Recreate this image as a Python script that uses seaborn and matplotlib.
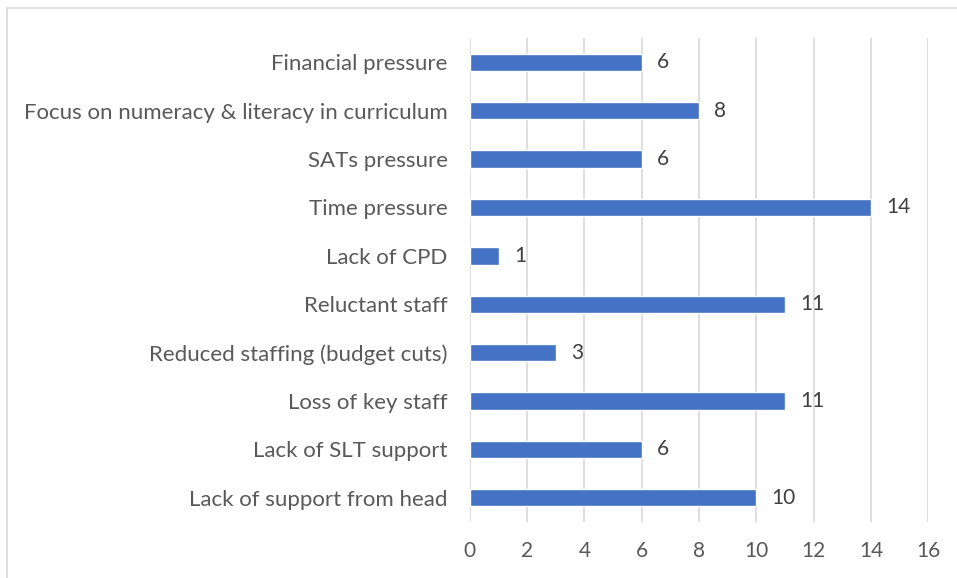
import pandas as pd
import numpy as np
import matplotlib.pyplot as plt
import seaborn as sns
from matplotlib.patches import Rectangle

# dados do gráfico (de cima para baixo)
categorias = [
    "Financial pressure",
    "Focus on numeracy & literacy in curriculum",
    "SATs pressure",
    "Time pressure",
    "Lack of CPD",
    "Reluctant staff",
    "Reduced staffing (budget cuts)",
    "Loss of key staff",
    "Lack of SLT support",
    "Lack of support from head",
]
valores = [6, 8, 6, 14, 1, 11, 3, 11, 6, 10]
ticks_x = [0, 2, 4, 6, 8, 10, 12, 14, 16]

df = pd.DataFrame({"categoria": categorias, "valor": valores})

sns.set_theme(style="white")
plt.rcParams["font.family"] = ["Lato", "DejaVu Sans"]

fig = plt.figure(figsize=(9.57, 5.78), dpi=100)
ax = fig.add_axes([0.491, 0.097, 0.479, 0.837])

# borda do gráfico
fig.patches.append(Rectangle((7 / 957, -0.01), 1.02, 1 - 8 / 578 + 0.01,
                             transform=fig.transFigure, fill=False,
                             edgecolor="#d9d9d9", linewidth=1.2))

sns.barplot(data=df, y="categoria", x="valor", color="#4472C4",
            width=0.36, saturation=1, ax=ax, zorder=3)

for cont in ax.containers:
    ax.bar_label(cont, padding=11, fontsize=15, color="#404040")

ax.set_xlim(0, 16)
ax.set_xticks(ticks_x)
ax.grid(axis="x", color="#d9d9d9", linewidth=1.2, zorder=0)
ax.set_axisbelow(True)
for s in ax.spines.values():
    s.set_visible(False)
ax.tick_params(axis="both", length=0, labelcolor="#595959")
ax.tick_params(axis="x", pad=14, labelsize=15)
ax.tick_params(axis="y", pad=16, labelsize=16)
ax.set_xlabel("")
ax.set_ylabel("")

fig.savefig("out.png", dpi=100)
